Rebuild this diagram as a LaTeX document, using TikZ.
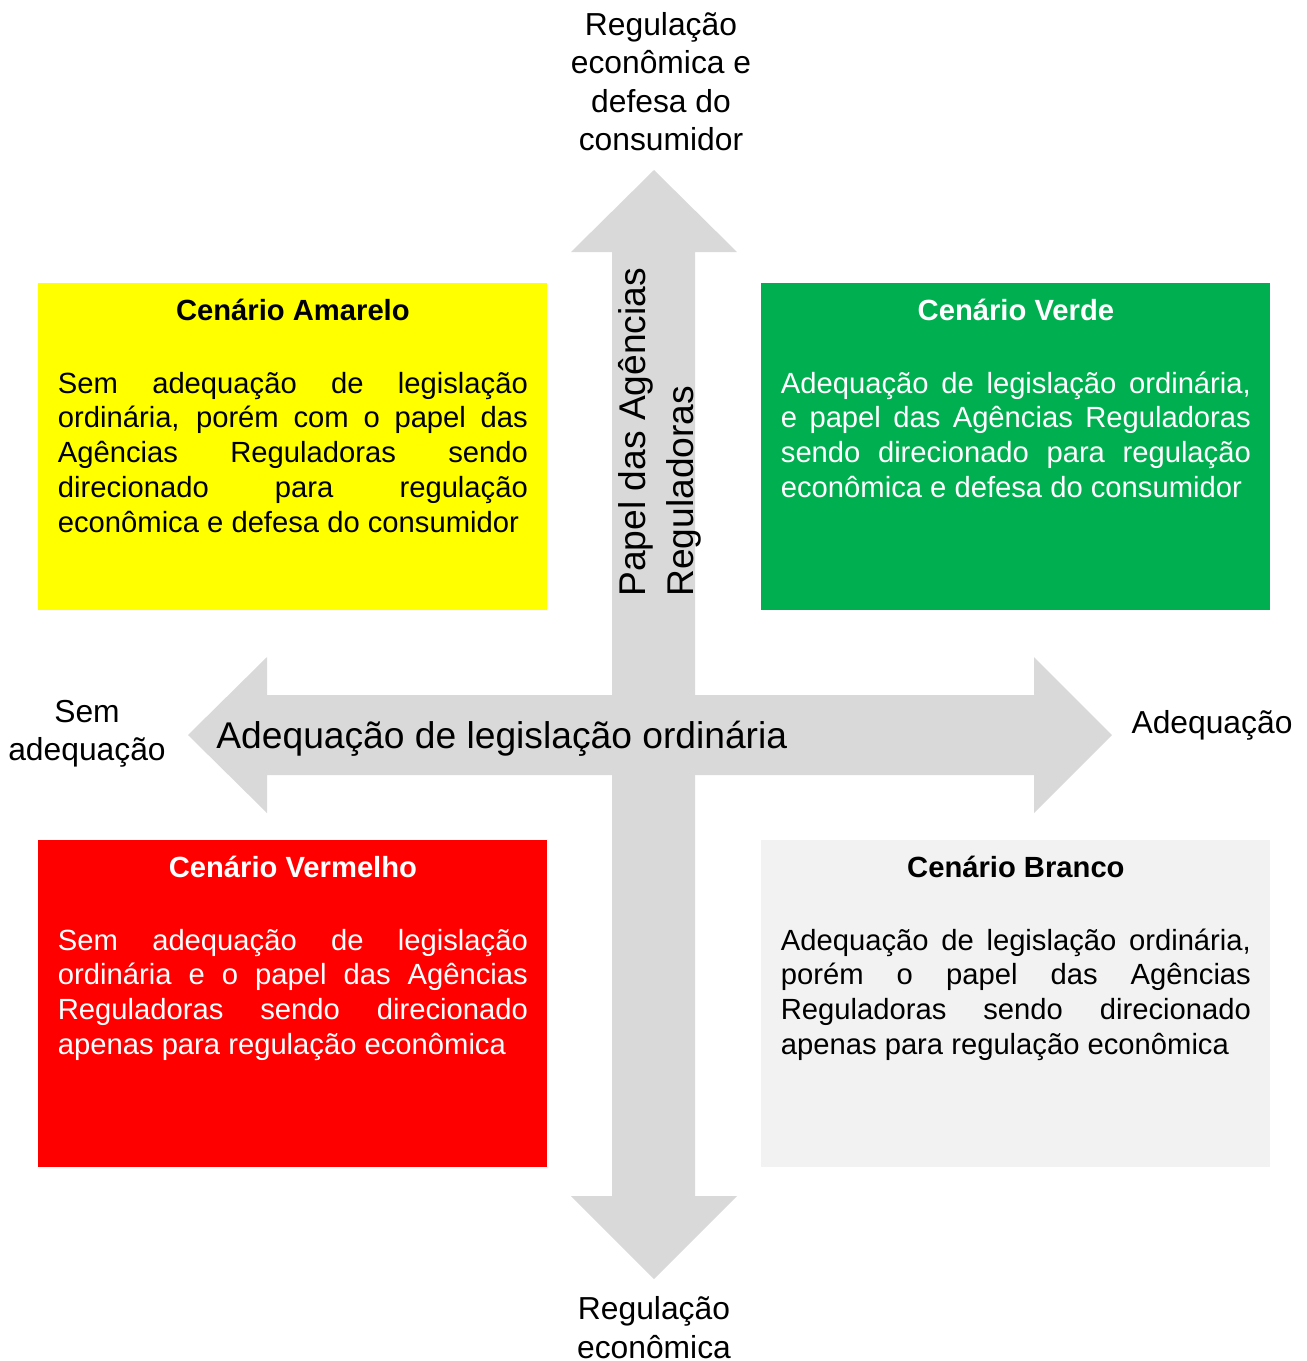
\documentclass[tikz,border=0pt]{standalone}
\usepackage{fontspec}
\setmainfont{Liberation Sans}
\usepackage{tikz}
\usetikzlibrary{positioning}
\definecolor{amarelo}{RGB}{255,255,0}
\definecolor{verde}{RGB}{0,176,80}
\definecolor{vermelho}{RGB}{255,0,0}
\definecolor{branco}{RGB}{242,242,242}
\definecolor{seta}{RGB}{217,217,217}
\tolerance=10000
\hyphenpenalty=10000

\begin{document}
\begin{tikzpicture}[x=0.5pt, y=-0.5pt]
\tikzstyle{cenario} = [rectangle, anchor=north west, inner sep=0,
    minimum width=254.5pt, minimum height=163.5pt]
\tikzstyle{titulo} = [font=\fontsize{14.6pt}{17.5pt}\selectfont\bfseries,
    inner sep=0, anchor=base]
\tikzstyle{texto} = [font=\fontsize{14.6pt}{17.4pt}\selectfont,
    text width=235pt, align=justify, inner sep=0, anchor=base]
\tikzstyle{rotulo} = [font=\fontsize{15.9pt}{19.25pt}\selectfont,
    align=center, inner sep=0, anchor=base]
\tikzstyle{eixo} = [font=\fontsize{18.6pt}{24pt}\selectfont, inner sep=0]
    \useasboundingbox (0,0) rectangle (1307,1361);

%arrows
    \fill [seta] (188,735) -- (267,657) -- (267,695) -- (1034,695) -- (1034,657)
        -- (1112,735) -- (1034,813) -- (1034,775) -- (267,775) -- (267,813) -- cycle;
    \fill [seta] (654,170) -- (737,252) -- (695,252) -- (695,1196) -- (737,1196)
        -- (654,1279) -- (571,1196) -- (612,1196) -- (612,252) -- (571,252) -- cycle;

    % Place nodes
    \node [cenario, fill=amarelo] (amarelo) at (38,283) {};
    \node [cenario, fill=verde] (verde) at (761,283) {};
    \node [cenario, fill=vermelho] (vermelho) at (38,840) {};
    \node [cenario, fill=branco] (branco) at (761,840) {};

    \node [titulo, below=18.5pt of amarelo.north, anchor=base] (amarelo titulo) {Cenário Amarelo};
    \node [titulo, below=18.5pt of verde.north, anchor=base, text=white] (verde titulo) {Cenário Verde};
    \node [titulo, below=18.5pt of vermelho.north, anchor=base, text=white] (vermelho titulo) {Cenário Vermelho};
    \node [titulo, below=18.5pt of branco.north, anchor=base] (branco titulo) {Cenário Branco};

    \node [texto, below=55pt of amarelo.north, anchor=base] (amarelo texto)
        {Sem adequação de legislação\linebreak ordinária, porém com o papel das\linebreak
        Agências Reguladoras sendo\linebreak direcionado para regulação\linebreak
        econômica e defesa do consumidor};
    \node [texto, below=55pt of verde.north, anchor=base, text=white] (verde texto)
        {Adequação de legislação ordinária,\linebreak e papel das Agências Reguladoras\linebreak
        sendo direcionado para regulação\linebreak econômica e defesa do consumidor};
    \node [texto, below=55pt of vermelho.north, anchor=base, text=white] (vermelho texto)
        {Sem adequação de legislação\linebreak ordinária e o papel das Agências\linebreak
        Reguladoras sendo direcionado\linebreak apenas para regulação econômica};
    \node [texto, below=55pt of branco.north, anchor=base] (branco texto)
        {Adequação de legislação ordinária,\linebreak porém o papel das Agências\linebreak
        Reguladoras sendo direcionado\linebreak apenas para regulação econômica};

    \node [eixo, anchor=base west] (adequacao) at (216,748) {Adequação de legislação ordinária};
    \node [eixo, rotate=90, anchor=base west, align=left] (papel) at (693,597)
        {Papel das Agências\\Reguladoras};

    \node [rotulo] (norte) at (661,150.5) {Regulação\\econômica e\\defesa do\\consumidor};
    \node [rotulo] (sul) at (654,1358) {Regulação\\econômica};
    \node [rotulo] (oeste) at (87,760.5) {Sem\\adequação};
    \node [rotulo] (leste) at (1212,733) {Adequação};

\end{tikzpicture}
\end{document}
